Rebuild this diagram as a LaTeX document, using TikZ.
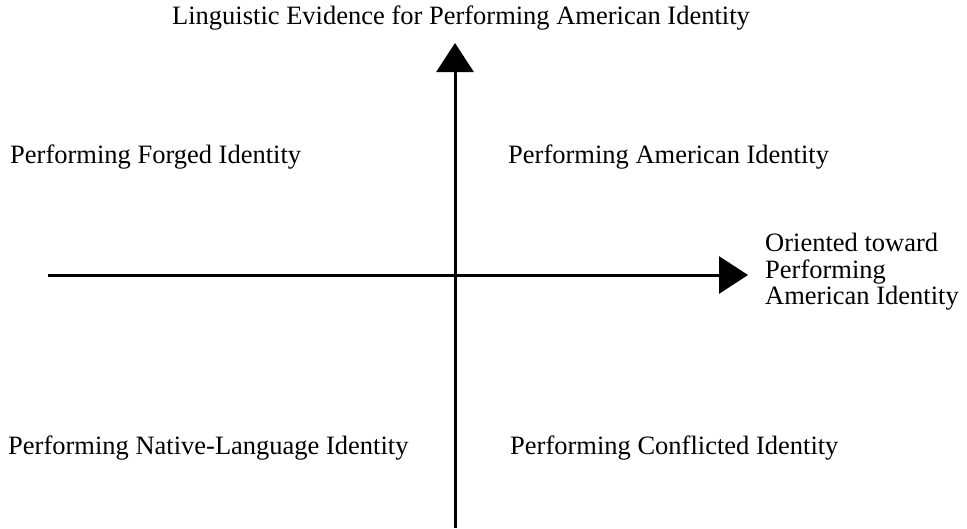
\documentclass[tikz,border=0pt]{standalone}
\usepackage{fontspec}
\setmainfont{Liberation Serif}
\usetikzlibrary{arrows.meta}

\begin{document}
\begin{tikzpicture}[x=1pt,y=-1pt]
            \tikzset{axis/.style={line width=3pt, -{Triangle[width=37pt,length=29pt]}}}
            \tikzset{quad/.style={anchor=west, inner sep=0pt, font=\fontsize{26.5}{26.5}\selectfont}}

            \useasboundingbox (0,0) rectangle (967,528);

            \coordinate (ybottom) at (455,528);
            \coordinate (ytop) at (455,43);
            \coordinate (xleft) at (48,275);
            \coordinate (xright) at (748,275);

            \draw[axis] (ybottom) -- (ytop);
            \draw[axis] (xleft) -- (xright);

            \node[quad, anchor=center] (title) at (461,18) {Linguistic Evidence for Performing American Identity};
            \node[quad] (forged) at (10,157) {Performing Forged Identity};
            \node[quad] (american) at (508,157) {Performing American Identity};
            \node[quad, align=left] (oriented) at (765,272) {Oriented toward\\Performing\\American Identity};
            \node[quad] (native) at (8,448) {Performing Native-Language Identity};
            \node[quad] (conflicted) at (510,448) {Performing Conflicted Identity};
\end{tikzpicture}
\end{document}
